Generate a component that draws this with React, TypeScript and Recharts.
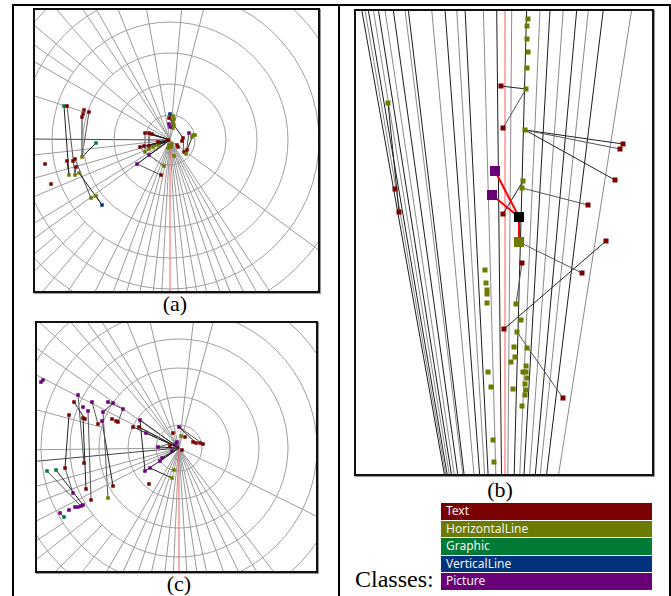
import { ScatterChart, Scatter, XAxis, YAxis, ReferenceLine, ReferenceDot } from 'recharts'

type Node = { id: string; x: number; y: number; c: string; big?: boolean }
type Pt = { x: number; y: number }

const CLASSES = [
  { key: 'T', name: 'Text', color: '#7b0000' },
  { key: 'H', name: 'HorizontalLine', color: '#6c7a00' },
  { key: 'G', name: 'Graphic', color: '#007a35' },
  { key: 'V', name: 'VerticalLine', color: '#00337c' },
  { key: 'P', name: 'Picture', color: '#6a0078' },
]
const COLOR: Record<string, string> = { X: '#000000' }
CLASSES.forEach(c => { COLOR[c.key] = c.color })

const toNodes = (rows: (string | number | boolean)[][]): Node[] =>
  rows.map(([id, x, y, c, big]) => ({ id: id as string, x: x as number, y: y as number, c: c as string, big: !!big }))

// ---- panel (a) ----
const A_BOX = [34, 9, 319, 292]
const A_CENTER = { x: 170, y: 140 }
const A_RINGS = [25, 56, 87, 118, 149, 180, 211]
const A_RAYS = [-150, -139.8, -123.7, -119.4, -111.7, -100.2, -84.9, -75.6, 36.5, 56.6, 60.3, 64.2, 68.4, 71.8, 76.4, 80, 83.7, 86.9, 93.1, 96.3, 101.2, 105.9, 110.5, 116.3, 144.1, 148.5, 157.4, 164.3, 173.7]
const A_DARK_RAYS = [180.4]
const A_OUTER = [[-162, 87], [-131, 87], [-145, 118], [124, 118], [130, 118], [136, 118], [140, 149]]
const A_NODES = toNodes([
  ['a1', 64, 106, 'G'], ['a2', 67, 106, 'T'], ['a3', 82, 117, 'T'], ['a4', 83, 114, 'T'], ['a5', 84, 110, 'T'],
  ['a6', 89, 112, 'T'], ['a7', 82, 157, 'H'], ['a8', 96, 143, 'G'], ['a9', 67, 161, 'T'], ['a10', 73, 161, 'T'],
  ['a11', 75, 159, 'T'], ['a12', 76, 167, 'T'], ['a13', 45, 164, 'T'], ['a14', 51, 184, 'T'], ['a15', 69, 175, 'H'],
  ['a16', 75, 175, 'H'], ['a17', 79, 173, 'H'], ['a18', 91, 198, 'H'], ['a19', 96, 196, 'H'], ['a20', 102, 205, 'V'],
  ['a21', 145, 133, 'T'], ['a22', 149, 133, 'T'], ['a23', 152, 134, 'T'], ['a24', 140, 147, 'T'], ['a25', 144, 146, 'T'],
  ['a26', 149, 146, 'T'], ['a27', 145, 152, 'H'], ['a28', 149, 149, 'H'], ['a29', 153, 147, 'H'], ['a30', 158, 145, 'H'],
  ['a31', 158, 142, 'T'], ['a32', 149, 155, 'P'], ['a33', 137, 164, 'P'], ['a34', 164, 166, 'H'], ['a35', 161, 175, 'T'],
  ['a36', 170, 114, 'V'], ['a37', 173, 116, 'H'], ['a38', 174, 119, 'H'], ['a39', 173, 122, 'H'], ['a40', 174, 125, 'H'],
  ['a41', 173, 128, 'H'], ['a42', 169, 118, 'T'], ['a43', 169, 124, 'P'], ['a44', 170, 127, 'P'], ['a45', 189, 133, 'P'],
  ['a46', 193, 135, 'H'], ['a47', 195, 135, 'H'], ['a48', 192, 137, 'H'], ['a49', 183, 138, 'T'], ['a50', 182, 141, 'T'],
  ['a51', 177, 145, 'T'], ['a52', 178, 147, 'T'], ['a53', 169, 145, 'H'], ['a54', 171, 147, 'H'], ['a55', 168, 148, 'H'],
  ['a56', 172, 144, 'H'], ['a57', 184, 152, 'T'], ['a58', 186, 154, 'H'], ['a59', 174, 156, 'H'], ['a60', 187, 150, 'T'],
  ['a61', 168, 140, 'T'],
])
const A_LINKS = [
  ['a1', 'a15'], ['a2', 'a16'], ['a3', 'a7'], ['a6', 'a7'], ['a7', 'a8'], ['a11', 'a18'], ['a17', 'a20'], ['a12', 'a16'],
  ['a9', 'a15'], ['a18', 'a19'], ['a19', 'a20'], ['a21', 'a27'], ['a22', 'a28'], ['a24', 'a27'], ['a32', 'a34'],
  ['a33', 'a35'], ['a36', 'a41'], ['a45', 'a58'], ['a42', 'a49'], ['a49', 'a57'], ['a46', 'a60'],
]
const A_ROOT_TO = ['a21', 'a22', 'a23', 'a24', 'a25', 'a26', 'a29', 'a30', 'a31', 'a32', 'a33']

// ---- panel (c) ----
const C_BOX = [36, 322, 317, 572]
const C_CENTER = { x: 179, y: 448 }
const C_RINGS = [23, 51, 80, 109, 138, 167, 196]
const C_RAYS = [-152.9, -145, -130.7, -126.1, -121.4, -112.4, -102.9, -83.5, -74.8, 26.4, 52.6, 57.8, 64.3, 70.2, 77.4, 81.8, 86.4, 92.6, 96.5, 102.5, 108.2, 114.3, 120.4, 152.9, 159, 165, 179.3]
const C_DARK_RAYS = [174.7]
const C_OUTER = [[-165, 80], [-138, 80], [128, 109], [135, 109], [142, 109], [147, 138]]
const C_NODES = toNodes([
  ['c1', 43, 380, 'P'], ['c1b', 41, 382, 'P'], ['c2', 78, 395, 'P'], ['c3', 74, 402, 'T'], ['c4', 69, 415, 'T'],
  ['c5', 83, 407, 'P'], ['c6', 88, 411, 'P'], ['c7', 92, 402, 'P'], ['c8', 83, 418, 'T'], ['c9', 85, 419, 'T'],
  ['c10', 108, 402, 'P'], ['c11', 113, 403, 'P'], ['c12', 103, 412, 'P'], ['c13', 102, 421, 'P'], ['c14', 98, 424, 'T'],
  ['c15', 123, 409, 'P'], ['c16', 118, 422, 'T'], ['c17', 116, 421, 'T'], ['c18', 112, 419, 'T'], ['c19', 140, 420, 'P'],
  ['c20', 133, 427, 'T'], ['c21', 139, 427, 'T'], ['c22', 146, 433, 'P'], ['c23', 84, 463, 'T'], ['c24', 65, 468, 'T'],
  ['c25', 47, 471, 'G'], ['c26', 56, 470, 'G'], ['c27', 86, 489, 'T'], ['c28', 91, 500, 'T'], ['c29', 108, 498, 'H'],
  ['c30', 113, 486, 'T'], ['c31', 73, 493, 'P'], ['c32', 75, 507, 'P'], ['c33', 78, 507, 'P'], ['c34', 81, 506, 'P'],
  ['c35', 83, 505, 'P'], ['c36', 69, 510, 'P'], ['c37', 60, 513, 'P'], ['c38', 64, 517, 'G'], ['c39', 145, 471, 'P'],
  ['c40', 150, 468, 'P'], ['c41', 149, 484, 'T'], ['c42', 172, 478, 'H'], ['c43', 174, 470, 'H'], ['c44', 162, 458, 'P'],
  ['c45', 160, 461, 'P'], ['c46', 158, 447, 'P'], ['c47', 179, 427, 'P'], ['c48', 173, 433, 'T'], ['c49', 196, 443, 'T'],
  ['c50', 200, 443, 'T'], ['c51', 203, 444, 'T'], ['c52', 193, 442, 'T'], ['c53', 177, 442, 'P'], ['c54', 175, 445, 'P'],
  ['c55', 185, 437, 'T'], ['c56', 181, 436, 'H'], ['c57', 170, 446, 'T'], ['c58', 182, 450, 'T'], ['c59', 172, 451, 'P'],
])
const C_LINKS = [
  ['c4', 'c24'], ['c2', 'c23'], ['c8', 'c27'], ['c6', 'c28'], ['c13', 'c30'], ['c12', 'c29'], ['c19', 'c39'],
  ['c25', 'c34'], ['c26', 'c35'], ['c24', 'c31'], ['c37', 'c38'], ['c10', 'c15'], ['c11', 'c12'], ['c15', 'c16'],
  ['c40', 'c42'], ['c47', 'c51'], ['c47', 'c49'], ['c46', 'c53'], ['c3', 'c9'], ['c7', 'c14'],
]
const C_ROOT_TO = ['c19', 'c20', 'c21', 'c22', 'c39', 'c44', 'c45', 'c46', 'c53']

// ---- panel (b) ----
const B_BOX = [355, 10, 653, 475]
const B_CENTER = { x: 505, y: 815 }
// tilt of each fan line from the vertical, degrees
const B_TILTS = [-10.09, -9.87, -9.64, -9.29, -8.94, -8.48, -7.9, -7.08, -6.85, -5.2, -4.26, -3.43, -2.84, -1.54, -0.59, 0.48, 1.54, 2.49, 3.2, 4.14, 5.09, 5.91, 6.96, 8.94]
const B_NODES = toNodes([
  ['b1', 528, 19, 'H'], ['b2', 527, 26, 'H'], ['b3', 527, 39, 'H'], ['b4', 528, 52, 'H'], ['b5', 527, 68, 'H'],
  ['b6', 526, 89, 'H'], ['b7', 388, 103, 'H'], ['b8', 525, 130, 'H'], ['b9', 523, 181, 'H'], ['b10', 522, 188, 'H'],
  ['b11', 519, 242, 'H', true], ['b12', 485, 270, 'H'], ['b13', 486, 283, 'H'], ['b14', 487, 290, 'H'], ['b15', 487, 294, 'H'],
  ['b16', 487, 303, 'H'], ['b17', 516, 304, 'H'], ['b18', 521, 320, 'H'], ['b19', 517, 332, 'H'], ['b20', 514, 347, 'H'],
  ['b21', 527, 348, 'H'], ['b22', 515, 357, 'H'], ['b23', 511, 362, 'H'], ['b24', 526, 366, 'H'], ['b25', 526, 372, 'H'],
  ['b26', 527, 378, 'H'], ['b27', 525, 384, 'H'], ['b28', 526, 390, 'H'], ['b29', 525, 395, 'H'], ['b30', 523, 372, 'H'],
  ['b31', 488, 372, 'H'], ['b32', 491, 387, 'H'], ['b33', 513, 389, 'H'], ['b34', 522, 406, 'H'], ['b35', 493, 440, 'H'],
  ['b36', 494, 462, 'H'],
  ['b37', 501, 86, 'T'], ['b38', 503, 128, 'T'], ['b39', 623, 144, 'T'], ['b40', 620, 149, 'T'], ['b41', 615, 180, 'T'],
  ['b42', 588, 205, 'T'], ['b43', 395, 189, 'T'], ['b44', 399, 212, 'T'], ['b45', 503, 214, 'T'], ['b46', 606, 241, 'T'],
  ['b47', 582, 273, 'T'], ['b48', 522, 263, 'T'], ['b49', 504, 329, 'T'], ['b50', 563, 398, 'T'],
  ['b51', 495, 171, 'P', true], ['b52', 492, 195, 'P', true], ['b53', 519, 217, 'X', true],
])
const B_LINKS = [
  ['b37', 'b6'], ['b38', 'b6'], ['b8', 'b39'], ['b8', 'b40'], ['b8', 'b41'], ['b10', 'b42'], ['b9', 'b45'],
  ['b11', 'b47'], ['b46', 'b49'], ['b19', 'b50'], ['b7', 'b44'], ['b48', 'b17'],
]
const B_RED_LINKS = [['b51', 'b53'], ['b52', 'b53'], ['b53', 'b11']]

const rad = (d: number) => (d * Math.PI) / 180
const polar = (c: Pt, deg: number, r: number) => ({ x: c.x + r * Math.cos(rad(deg)), y: c.y + r * Math.sin(rad(deg)) })

type PanelProps = {
  box: number[]
  center: Pt
  rings?: number[]
  rays: number[]
  rayColor: (i: number) => string
  darkRays?: number[]
  outer?: number[][]
  redDeg: number
  nodes: Node[]
  links: string[][]
  rootTo?: string[]
  redLinks?: string[][]
  size: number
  bigSize: number
}

function Panel({ box, center, rings = [], rays, rayColor, darkRays = [], outer = [], redDeg, nodes, links, rootTo = [], redLinks = [], size, bigSize }: PanelProps) {
  const [x0, y0, x1, y1] = box
  const w = x1 - x0
  const h = y1 - y0
  const byId: Record<string, Node> = {}
  nodes.forEach(n => { byId[n.id] = n })
  const seg = (a: Pt, b: Pt) => [{ x: a.x, y: a.y }, { x: b.x, y: b.y }]
  const shape = (p: any) => {
    const s = p.payload.big ? bigSize : size
    return <rect x={p.cx - s / 2} y={p.cy - s / 2} width={s} height={s} fill={COLOR[p.payload.c]} />
  }
  return (
    <>
      <div style={{ position: 'absolute', left: x0, top: y0, width: w, height: h, overflow: 'hidden', background: '#fff' }}>
        <ScatterChart width={w} height={h} margin={{ top: 0, right: 0, bottom: 0, left: 0 }}>
          <XAxis type="number" dataKey="x" domain={[x0, x1]} hide allowDataOverflow />
          <YAxis type="number" dataKey="y" domain={[y0, y1]} reversed hide allowDataOverflow />
          {rings.map(r => (
            <ReferenceDot key={'ring' + r} x={center.x} y={center.y} r={r} fill="none" stroke="#a0a0a0" strokeWidth={1} ifOverflow="visible" />
          ))}
          {rays.map((d, i) => (
            <ReferenceLine key={'ray' + i} segment={seg(polar(center, d, 0), polar(center, d, 1000))} stroke={rayColor(i)} strokeWidth={1} ifOverflow="visible" />
          ))}
          {outer.map(([d, r0], i) => (
            <ReferenceLine key={'out' + i} segment={seg(polar(center, d, r0), polar(center, d, 1000))} stroke="#a0a0a0" strokeWidth={1} ifOverflow="visible" />
          ))}
          {darkRays.map((d, i) => (
            <ReferenceLine key={'dark' + i} segment={seg(center, polar(center, d, 1000))} stroke="#444" strokeWidth={1} ifOverflow="visible" />
          ))}
          <ReferenceLine segment={seg(center, polar(center, redDeg, 1000))} stroke="#ff5b5b" strokeWidth={1} ifOverflow="visible" />
          {rootTo.map(id => (
            <ReferenceLine key={'root' + id} segment={seg(center, byId[id])} stroke="#222" strokeWidth={1} ifOverflow="visible" />
          ))}
          {links.map(([a, b], i) => (
            <ReferenceLine key={'lk' + i} segment={seg(byId[a], byId[b])} stroke={i % 2 ? '#555' : '#222'} strokeWidth={1} ifOverflow="visible" />
          ))}
          {redLinks.map(([a, b], i) => (
            <ReferenceLine key={'red' + i} segment={seg(byId[a], byId[b])} stroke="#ff0000" strokeWidth={2} ifOverflow="visible" />
          ))}
          <Scatter data={nodes} isAnimationActive={false} shape={shape} />
        </ScatterChart>
      </div>
      <div style={{ position: 'absolute', left: x0 - 1, top: y0 - 1, width: w + 2, height: h + 2, boxSizing: 'border-box', border: '2px solid #111', boxShadow: '1px 1px 0 #999', pointerEvents: 'none' }} />
    </>
  )
}

const label = (text: string, cx: number, top: number, size = 22) => (
  <div style={{ position: 'absolute', left: cx - 40, width: 80, top, textAlign: 'center', fontSize: size, lineHeight: `${size}px` }}>{text}</div>
)

export default function App() {
  return (
    <div style={{ position: 'fixed', left: 0, top: 0, width: 671, height: 596, background: '#fff', overflow: 'hidden', fontFamily: '"Liberation Serif", "Times New Roman", serif', color: '#000' }}>
      <div style={{ position: 'absolute', left: 12, top: 4, width: 660, height: 2, background: '#000' }} />
      <div style={{ position: 'absolute', left: 12, top: 4, width: 2, height: 600, background: '#000' }} />
      <div style={{ position: 'absolute', left: 338, top: 4, width: 2, height: 600, background: '#000' }} />
      <div style={{ position: 'absolute', left: 669, top: 4, width: 2, height: 600, background: '#000' }} />

      <Panel box={A_BOX} center={A_CENTER} rings={A_RINGS} rays={A_RAYS} rayColor={() => '#9a9a9a'} darkRays={A_DARK_RAYS}
        outer={A_OUTER} redDeg={90} nodes={A_NODES} links={A_LINKS} rootTo={A_ROOT_TO} size={3.5} bigSize={8} />
      <Panel box={C_BOX} center={C_CENTER} rings={C_RINGS} rays={C_RAYS} rayColor={() => '#9a9a9a'} darkRays={C_DARK_RAYS}
        outer={C_OUTER} redDeg={90} nodes={C_NODES} links={C_LINKS} rootTo={C_ROOT_TO} size={3.5} bigSize={8} />
      <Panel box={B_BOX} center={B_CENTER} rays={B_TILTS.map(t => t - 90)} rayColor={i => (i % 2 ? '#8a8a8a' : '#1c1c1c')}
        redDeg={-90} nodes={B_NODES} links={B_LINKS} redLinks={B_RED_LINKS} size={5} bigSize={10} />

      {label('(a)', 175, 293)}
      {label('(b)', 500, 479)}
      {label('(c)', 179, 573)}
      <div style={{ position: 'absolute', left: 355, top: 566, fontSize: 24, lineHeight: '26px' }}>Classes:</div>

      <div style={{ position: 'absolute', left: 441, top: 503, width: 211 }}>
        {CLASSES.map(c => (
          <div key={c.key} style={{ height: 16.5, marginBottom: 1, background: c.color, color: '#f2f2f2', fontFamily: '"Noto Sans", "Open Sans", sans-serif', fontSize: 12, lineHeight: '16px', paddingLeft: 5 }}>
            {c.name}
          </div>
        ))}
      </div>
    </div>
  )
}
